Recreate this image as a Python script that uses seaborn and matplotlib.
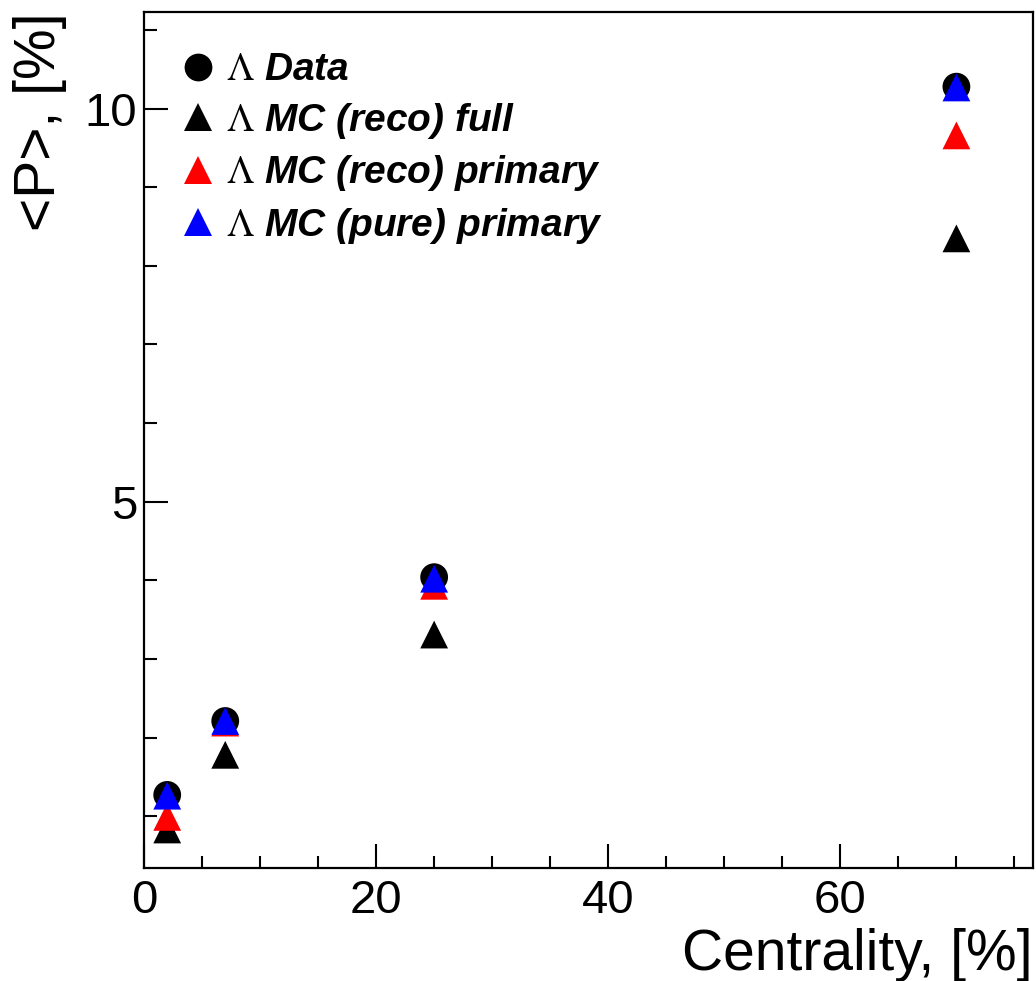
import matplotlib
matplotlib.use("Agg")
import matplotlib.pyplot as plt
from matplotlib.lines import Line2D
from matplotlib.ticker import MultipleLocator
import seaborn as sns
import pandas as pd

# ---- data ----
centrality = [2, 7, 25, 70]
data_vals = [1.27, 2.21, 4.04, 10.28]
mc_reco_full = [0.83, 1.78, 3.31, 8.35]
mc_reco_primary = [0.99, 2.19, 3.93, 9.66]
mc_pure_primary = [1.26, 2.21, 4.02, 10.27]

series_names = ["Data", "MC (reco) full", "MC (reco) primary", "MC (pure) primary"]
series_values = [data_vals, mc_reco_full, mc_reco_primary, mc_pure_primary]
series_colors = ["black", "black", "#ff0000", "#0000ff"]
series_markers = ["o", "^", "^", "^"]

x_label = "Centrality, [%]"
y_label = "<P>, [%]"

sns.set_theme(style="ticks")
plt.rcParams["font.family"] = ["Liberation Sans", "DejaVu Sans"]
plt.rcParams["mathtext.fontset"] = "stix"
plt.rcParams["text.color"] = "black"
plt.rcParams["axes.labelcolor"] = "black"
plt.rcParams["xtick.color"] = "black"
plt.rcParams["ytick.color"] = "black"
plt.rcParams["xtick.labelcolor"] = "black"
plt.rcParams["ytick.labelcolor"] = "black"

rows = []
for name, vals in zip(series_names, series_values):
    for c, v in zip(centrality, vals):
        rows.append({"centrality": c, "P": v, "series": name})
df = pd.DataFrame(rows)

fig = plt.figure(figsize=(10.36, 9.81), dpi=100)
ax = fig.add_axes([144 / 1036, 1 - 868 / 981, 889 / 1036, 856 / 981])

sns.scatterplot(
    data=df, x="centrality", y="P", hue="series", style="series",
    hue_order=series_names, style_order=series_names,
    palette=dict(zip(series_names, series_colors)),
    markers=dict(zip(series_names, series_markers)),
    s=400, linewidth=0, edgecolor="none", legend=False, ax=ax,
)

ax.set_xlim(0, 76.6)
ax.set_ylim(0.34, 11.23)
ax.xaxis.set_major_locator(MultipleLocator(20))
ax.xaxis.set_minor_locator(MultipleLocator(5))
ax.yaxis.set_major_locator(MultipleLocator(5))
ax.yaxis.set_minor_locator(MultipleLocator(1))
ax.tick_params(axis="both", which="both", direction="in", width=1.5, color="black",
               labelcolor="black", top=False, right=False)
ax.tick_params(axis="both", which="major", length=17, labelsize=34)
ax.tick_params(axis="both", which="minor", length=9)
ax.tick_params(axis="x", which="major", pad=8)
ax.tick_params(axis="y", which="major", pad=5)
for sp in ax.spines.values():
    sp.set_visible(True)
    sp.set_linewidth(1.6)
    sp.set_color("black")

ax.set_xlabel(x_label, fontsize=41, loc="right", color="black")
ax.xaxis.set_label_coords(1.0, -0.119)
ax.xaxis.label.set_va("baseline")
ax.set_ylabel(y_label, fontsize=41, loc="top", color="black")
ax.yaxis.set_label_coords(-0.117, 1.0)
ax.yaxis.label.set_va("center")

handles = [
    Line2D([], [], marker=m, color=c, linestyle="none",
           markersize=(20 if m == "o" else 19.5), markeredgewidth=0)
    for m, c in zip(series_markers, series_colors)
]
labels = [r"$\Lambda$ " + n for n in series_names]
leg = ax.legend(handles, labels, loc="upper left", bbox_to_anchor=(0.0439, 0.953),
                borderaxespad=0, borderpad=0, frameon=False, handlelength=0.78,
                handletextpad=0.32, labelspacing=0.32,
                prop=dict(family="Liberation Sans", weight="bold", style="italic", size=28))
for t in leg.get_texts():
    t.set_color("black")

fig.savefig("out.png", dpi=100)
